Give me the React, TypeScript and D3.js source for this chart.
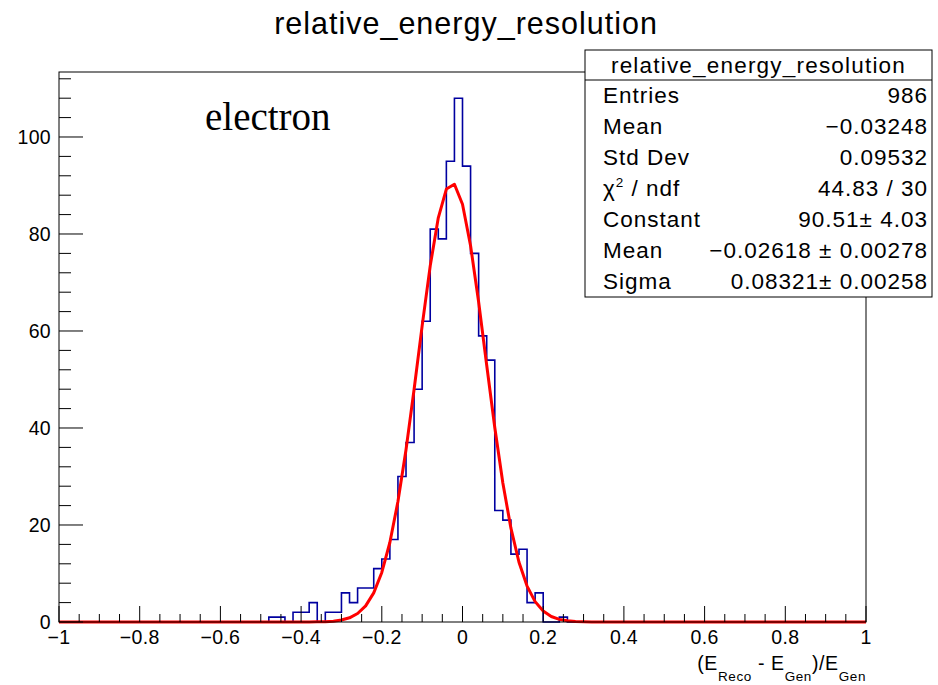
import React from "react";
import * as d3 from "d3";

// ---- data ----
const binLow = -1;
const binHigh = 1;
const binCounts: number[] = [
  0, 0, 0, 0, 0, 0, 0, 0, 0, 0,
  0, 0, 0, 0, 0, 0, 0, 0, 0, 0,
  0, 0, 0, 0, 0, 0, 1, 1, 0, 2,
  2, 4, 0, 2, 2, 6, 4, 7, 7, 11,
  13, 17, 30, 37, 48, 62, 81, 79, 95, 108,
  94, 76, 59, 54, 23, 21, 14, 15, 4, 6,
  0, 0, 1, 0, 0, 0, 0, 0, 0, 0,
  0, 0, 0, 0, 0, 0, 0, 0, 0, 0,
  0, 0, 0, 0, 0, 0, 0, 0, 0, 0,
  0, 0, 0, 0, 0, 0, 0, 0, 0, 0,
];
// Gaussian fit parameters shown in the stats box
const fitConstant = 90.51;
const fitMean = -0.02618;
const fitSigma = 0.08321;
const fitNpx = 100;

const xTickValues = [-1, -0.8, -0.6, -0.4, -0.2, 0, 0.2, 0.4, 0.6, 0.8, 1];
const yTickValues = [0, 20, 40, 60, 80, 100];

const statsLabels = ["Entries", "Mean", "Std Dev", "χ2 / ndf", "Constant", "Mean", "Sigma"];
const statsValues = ["986", "−0.03248", "0.09532", "44.83 / 30", "90.51± 4.03", "−0.02618 ± 0.00278", "0.08321± 0.00258"];

const titleText = "relative_energy_resolution";
const annotationText = "electron";

// ---- layout ----
const W = 938;
const H = 685;
const frame = { left: 59, right: 866, top: 72, bottom: 622 };
const sans = "'Liberation Sans', Arial, Helvetica, sans-serif";

const fmtX = (v: number) => {
  if (v === 0) return "0";
  const s = Math.abs(v) === 1 ? "1" : String(Math.abs(v));
  return (v < 0 ? "−" : "") + s;
};

export default function App() {
  const yMax = d3.max(binCounts)! * 1.05;
  const x = d3.scaleLinear().domain([binLow, binHigh]).range([frame.left, frame.right]);
  const y = d3.scaleLinear().domain([0, yMax]).range([frame.bottom, frame.top]);
  const nb = binCounts.length;
  const bw = (binHigh - binLow) / nb;

  // histogram step outline
  const pts: [number, number][] = [[binLow, 0]];
  binCounts.forEach((c, i) => {
    pts.push([binLow + i * bw, c]);
    pts.push([binLow + (i + 1) * bw, c]);
  });
  pts.push([binHigh, 0]);
  const histPath = d3
    .line<[number, number]>()
    .x((d) => x(d[0]))
    .y((d) => y(d[1]))(pts)!;

  // fit function curve
  const fitPts: [number, number][] = d3.range(fitNpx + 1).map((i) => {
    const xv = binLow + ((binHigh - binLow) * i) / fitNpx;
    return [xv, fitConstant * Math.exp(-0.5 * ((xv - fitMean) / fitSigma) ** 2)];
  });
  const fitPath = d3
    .line<[number, number]>()
    .x((d) => x(d[0]))
    .y((d) => y(d[1]))(fitPts)!;

  // ticks
  const xMinor = d3.range(-1, 1.0001, 0.05);
  const yMinor = d3.range(0, yMax, 4);
  const majXLen = 16, minXLen = 8;
  const majYLen = 24, minYLen = 12;

  const stats = { x0: 585, x1: 932, y0: 50, headerBottom: 80, y1: 297 };
  const rowH = (stats.y1 - stats.headerBottom) / statsLabels.length;
  const statFont = 22.5;
  const statLs = 1.0;

  return (
    <svg width={W} height={H} style={{ position: "absolute", left: 0, top: 0, background: "#fff" }}>
      <rect x={0} y={0} width={W} height={H} fill="#fff" />
      {/* title */}
      <text x={466} y={34} textAnchor="middle" fontFamily={sans} fontSize={30.5} letterSpacing={1.0} fill="#000">
        {titleText}
      </text>

      {/* histogram & fit */}
      <path d={histPath} fill="none" stroke="#0000a0" strokeWidth={1.6} />
      <path d={fitPath} fill="none" stroke="#ff0000" strokeWidth={3} strokeLinejoin="round" />

      {/* frame */}
      <rect x={frame.left} y={frame.top} width={frame.right - frame.left} height={frame.bottom - frame.top} fill="none" stroke="#000" strokeWidth={1} />

      {/* x ticks */}
      {xMinor.map((v, i) => {
        const major = i % 4 === 0;
        return (
          <line key={"xm" + i} x1={x(v)} x2={x(v)} y1={frame.bottom} y2={frame.bottom - (major ? majXLen : minXLen)} stroke="#000" strokeWidth={1} />
        );
      })}
      {xTickValues.map((v) => (
        <text key={"xl" + v} x={x(v)} y={644} textAnchor="middle" fontFamily={sans} fontSize={19.5} letterSpacing={0.3} fill="#000">
          {fmtX(v)}
        </text>
      ))}

      {/* y ticks */}
      {yMinor.map((v, i) => {
        const major = i % 5 === 0;
        return (
          <line key={"ym" + i} x1={frame.left} x2={frame.left + (major ? majYLen : minYLen)} y1={y(v)} y2={y(v)} stroke="#000" strokeWidth={1} />
        );
      })}
      {yTickValues.map((v) => (
        <text key={"yl" + v} x={51} y={y(v) + 7} textAnchor="end" fontFamily={sans} fontSize={19.5} letterSpacing={0.3} fill="#000">
          {v}
        </text>
      ))}

      {/* x axis title */}
      <text x={frame.right} y={670} textAnchor="end" fontFamily={sans} fontSize={19.5} letterSpacing={0.6} fill="#000">
        <tspan>(E</tspan>
        <tspan fontSize={13.5} dy={11}>Reco</tspan>
        <tspan dy={-11}> - E</tspan>
        <tspan fontSize={13.5} dy={11}>Gen</tspan>
        <tspan dy={-11}>)/E</tspan>
        <tspan fontSize={13.5} dy={11}>Gen</tspan>
      </text>

      {/* annotation */}
      <text x={205} y={130} fontFamily="'Liberation Serif', 'Times New Roman', serif" fontSize={39} fill="#000">
        {annotationText}
      </text>

      {/* stats box */}
      <rect x={stats.x0} y={stats.y0} width={stats.x1 - stats.x0} height={stats.y1 - stats.y0} fill="#fff" stroke="#000" strokeWidth={1} />
      <line x1={stats.x0} x2={stats.x1} y1={stats.headerBottom} y2={stats.headerBottom} stroke="#000" strokeWidth={1} />
      <text x={(stats.x0 + stats.x1) / 2} y={stats.headerBottom - 7} textAnchor="middle" fontFamily={sans} fontSize={statFont} letterSpacing={1.2} fill="#000">
        {titleText}
      </text>
      {statsLabels.map((lab, i) => {
        const by = stats.headerBottom + rowH * (i + 0.5) + 7.5;
        return (
          <g key={"s" + i}>
            <text x={603} y={by} fontFamily={sans} fontSize={statFont} letterSpacing={statLs} fill="#000">
              {lab === "χ2 / ndf" ? (
                <>
                  <tspan>χ</tspan>
                  <tspan fontSize={13.5} dy={-9}>2</tspan>
                  <tspan dy={9}> / ndf</tspan>
                </>
              ) : (
                lab
              )}
            </text>
            <text x={928} y={by} textAnchor="end" fontFamily={sans} fontSize={statFont} letterSpacing={statLs} fill="#000">
              {statsValues[i]}
            </text>
          </g>
        );
      })}
    </svg>
  );
}
